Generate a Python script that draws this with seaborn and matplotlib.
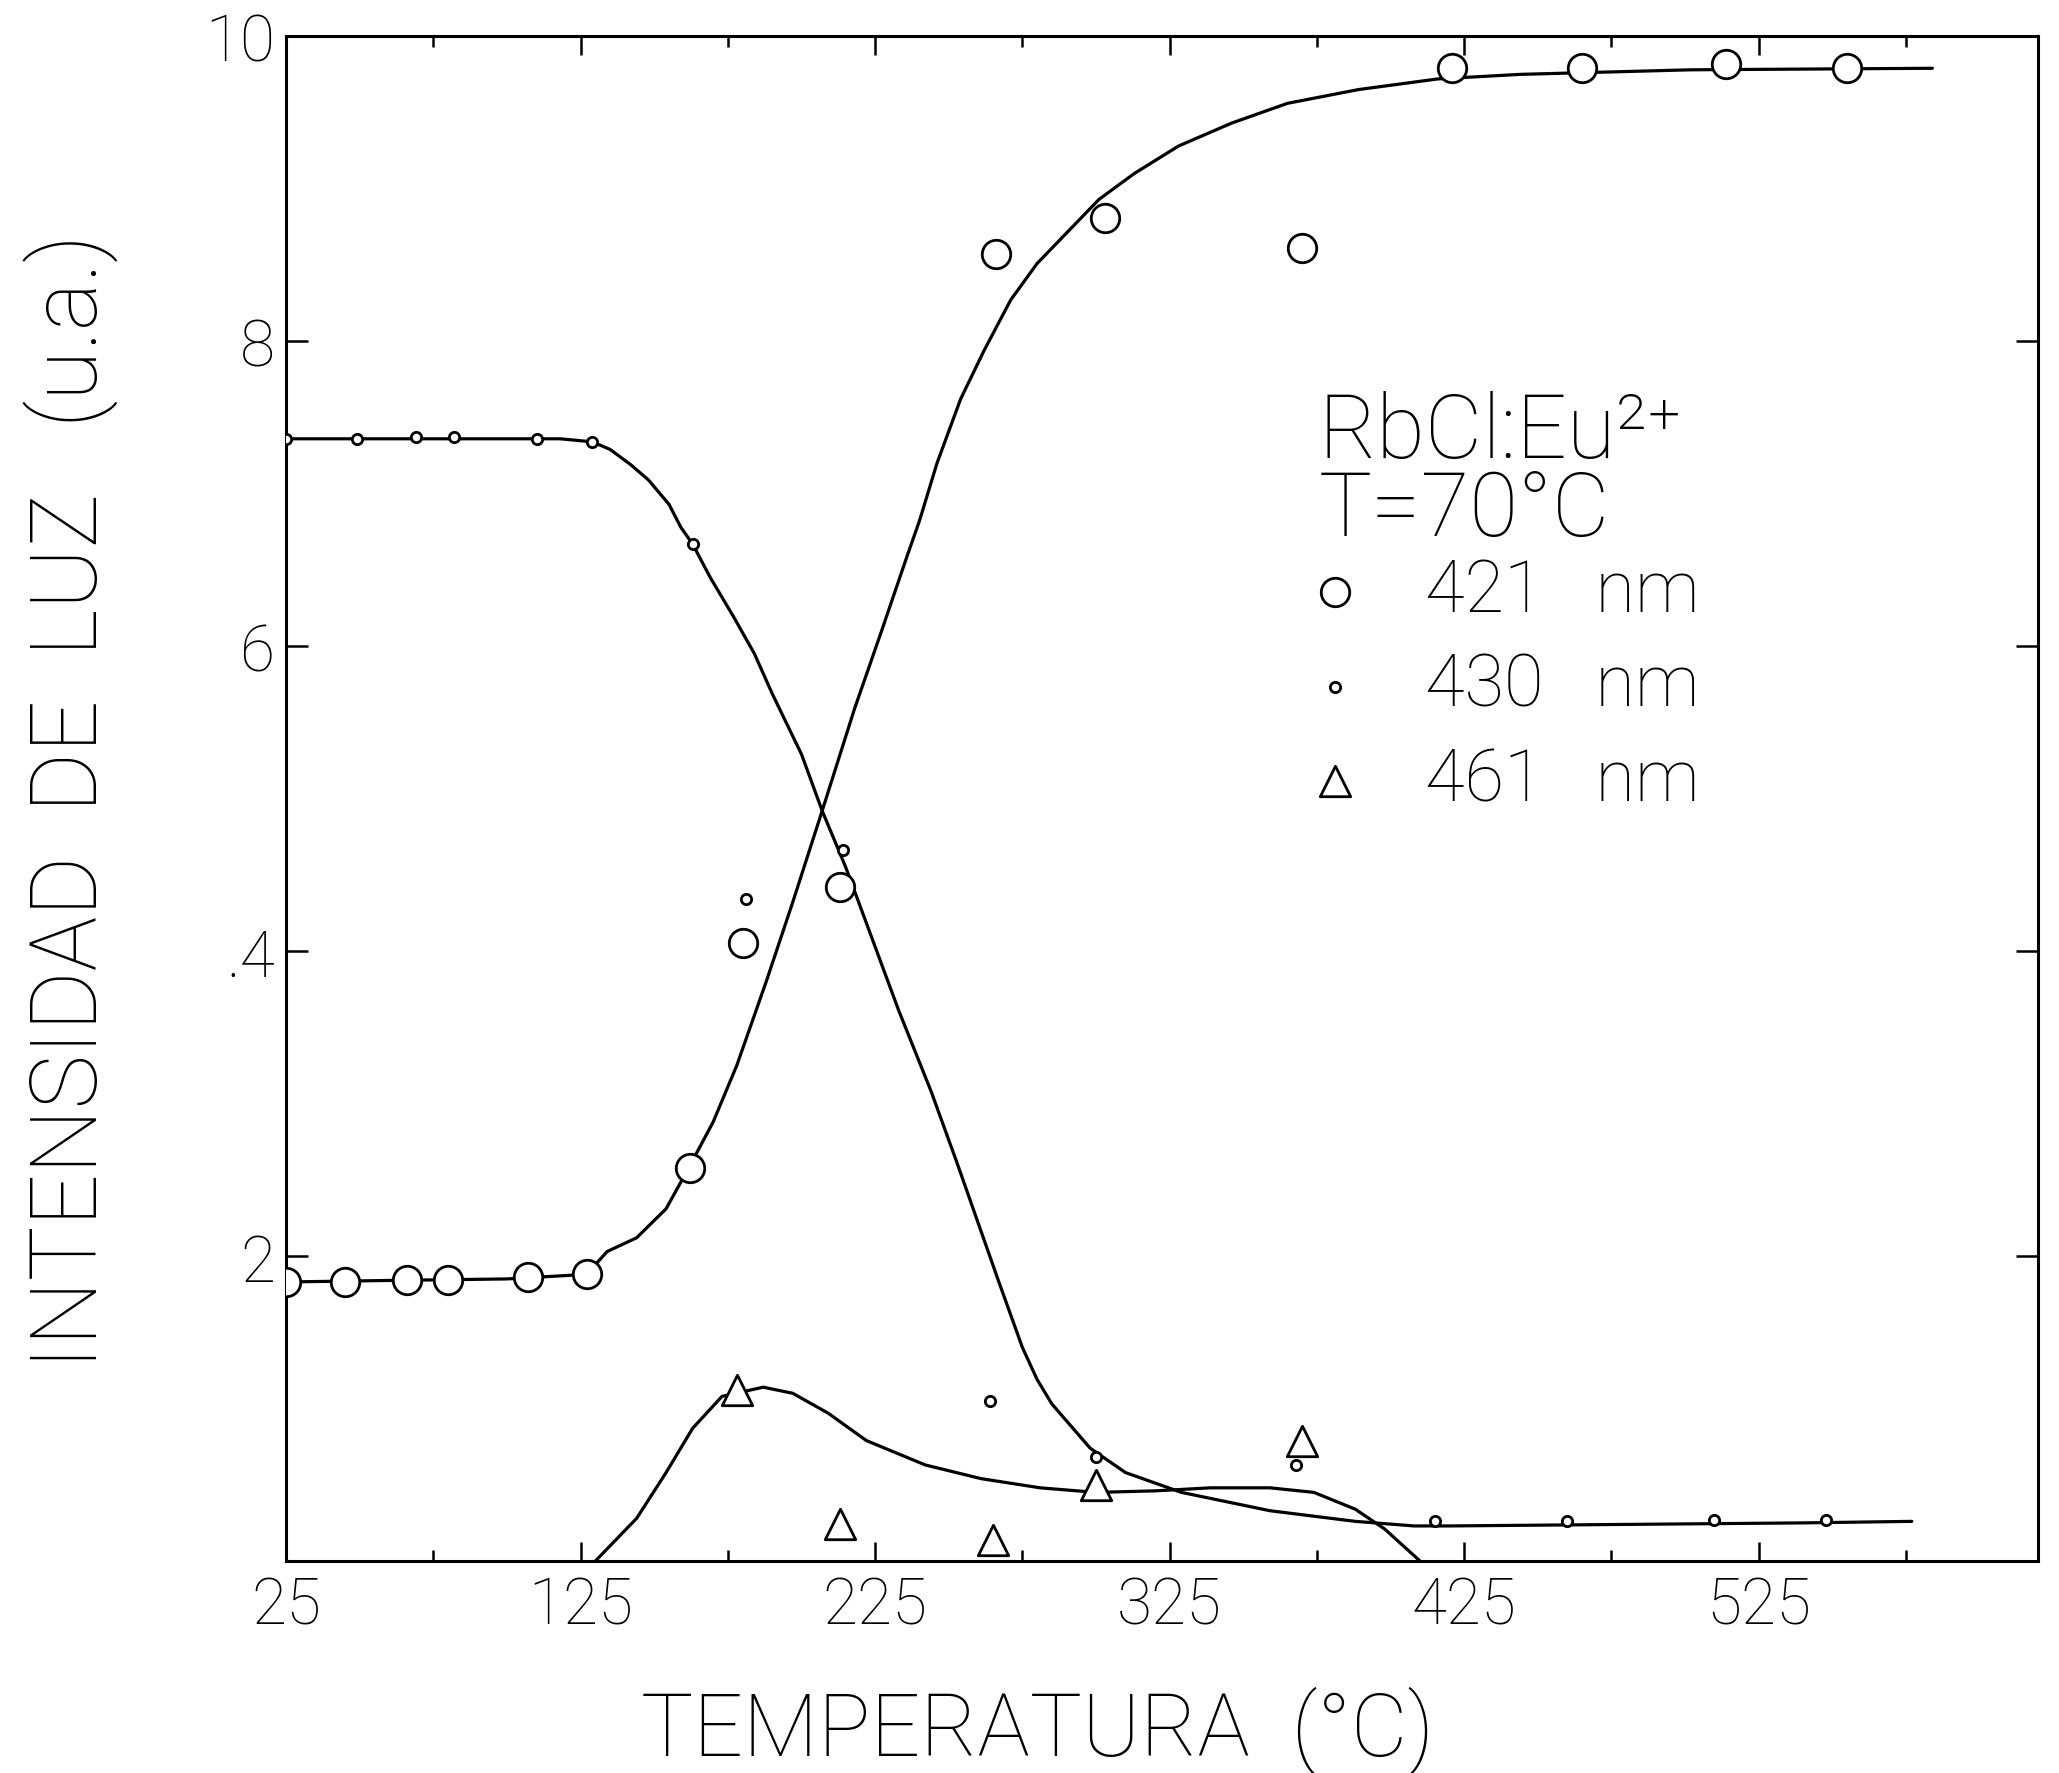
"""Intensidad de luz vs temperatura para RbCl:Eu2+ (T=70 C)."""

import matplotlib

matplotlib.use("Agg")
import matplotlib.pyplot as plt
import pandas as pd
import seaborn as sns

# puntos medidos, 421 nm (circulos grandes)
temp_421 = [25, 45, 66, 80, 107, 127, 162, 180, 213, 266, 303, 370, 421, 465, 514, 555]
int_421 = [1.83, 1.83, 1.84, 1.84, 1.86, 1.88, 2.58, 4.05, 4.42, 8.57, 8.81, 8.61, 9.79, 9.79, 9.82, 9.79]

# puntos medidos, 430 nm (puntos pequenos)
temp_430 = [25, 49, 69, 82, 110, 129, 163, 181, 214, 264, 300, 368, 415, 460, 510, 548]
int_430 = [7.36, 7.36, 7.37, 7.37, 7.36, 7.34, 6.67, 4.34, 4.66, 1.05, 0.68, 0.63, 0.26, 0.26, 0.27, 0.27]

# puntos medidos, 461 nm (triangulos)
temp_461 = [178, 213, 265, 300, 370]
int_461 = [1.12, 0.24, 0.14, 0.50, 0.79]

# curvas trazadas a mano
curve_421_t = [25, 60, 100, 127, 134, 144, 154, 162, 170, 178, 188, 197, 207, 218, 227,
               236, 240, 246, 254, 262, 271, 280, 291, 301, 313, 328, 346, 365, 389, 416,
               444, 502, 584]
curve_421_i = [1.83, 1.84, 1.85, 1.88, 2.03, 2.12, 2.31, 2.59, 2.88, 3.25, 3.80, 4.32, 4.92, 5.59, 6.09,
               6.60, 6.82, 7.20, 7.62, 7.94, 8.27, 8.51, 8.73, 8.93, 9.10, 9.28, 9.43, 9.56, 9.65, 9.72,
               9.75, 9.78, 9.79]

curve_430_t = [25, 60, 100, 118, 129, 135, 142, 148, 155, 159, 163, 169, 177, 184, 190,
               200, 207, 215, 224, 233, 244, 253, 259, 267, 275, 280, 285, 298, 310, 329,
               359, 388, 408, 420, 480, 540, 577]
curve_430_i = [7.36, 7.36, 7.36, 7.36, 7.34, 7.29, 7.19, 7.09, 6.93, 6.78, 6.67, 6.45, 6.19, 5.95, 5.69,
               5.29, 4.92, 4.55, 4.08, 3.61, 3.08, 2.60, 2.27, 1.83, 1.40, 1.19, 1.03, 0.74, 0.58, 0.45,
               0.33, 0.26, 0.23, 0.23, 0.24, 0.25, 0.26]

curve_461_t = [130, 144, 154, 163, 173, 187, 197, 209, 222, 242, 261, 281, 300, 320, 339,
               359, 374, 388, 398, 410]
curve_461_i = [0.0, 0.28, 0.58, 0.87, 1.08, 1.14, 1.10, 0.97, 0.79, 0.63, 0.54, 0.48, 0.45, 0.46, 0.48,
               0.48, 0.45, 0.34, 0.21, 0.0]

x_major = [25, 125, 225, 325, 425, 525]
x_minor = [75, 175, 275, 375, 475, 575]
y_ticks = [2, 4, 6, 8, 10]
y_labels = ["2", ".4", "6", "8", "10"]  # tal como en el original

FONT = ["Roboto", "DejaVu Sans"]


def setup_style():
    sns.set_theme(style="ticks")
    plt.rcParams["font.family"] = FONT
    plt.rcParams["font.weight"] = "light"
    plt.rcParams["axes.labelweight"] = "light"
    plt.rcParams["axes.linewidth"] = 2.2
    plt.rcParams["axes.edgecolor"] = "black"
    plt.rcParams["axes.labelcolor"] = "black"
    plt.rcParams["text.color"] = "black"
    plt.rcParams["xtick.color"] = "black"
    plt.rcParams["ytick.color"] = "black"


setup_style()

fig = plt.figure(figsize=(20.59, 17.74), dpi=100)
ax = fig.add_axes([0.139, 0.1195, 0.851, 0.8595])

curves = [
    (curve_421_t, curve_421_i),
    (curve_430_t, curve_430_i),
    (curve_461_t, curve_461_i),
]
for ct, ci in curves:
    df = pd.DataFrame({"t": ct, "i": ci})
    sns.lineplot(data=df, x="t", y="i", color="black", linewidth=2.3, ax=ax, zorder=2)

pts_421 = pd.DataFrame({"t": temp_421, "i": int_421})
pts_430 = pd.DataFrame({"t": temp_430, "i": int_430})
pts_461 = pd.DataFrame({"t": temp_461, "i": int_461})

sns.scatterplot(data=pts_421, x="t", y="i", marker="o", s=420, facecolor="white",
                edgecolor="black", linewidth=2.0, ax=ax, zorder=3, label="421   nm")
sns.scatterplot(data=pts_430, x="t", y="i", marker="o", s=55, facecolor="white",
                edgecolor="black", linewidth=2.0, ax=ax, zorder=3, label="430   nm")
sns.scatterplot(data=pts_461, x="t", y="i", marker="^", s=480, facecolor="white",
                edgecolor="black", linewidth=2.0, ax=ax, zorder=3, label="461   nm")

ax.set_xlim(25, 620)
ax.set_ylim(0, 10)

ax.set_xticks(x_major)
ax.set_xticks(x_minor, minor=True)
ax.set_xticklabels([str(v) for v in x_major])
ax.set_yticks(y_ticks)
ax.set_yticklabels(y_labels)

ax.tick_params(axis="x", which="major", direction="in", length=14, width=1.8,
               top=True, bottom=True, labelsize=46, pad=10)
ax.tick_params(axis="x", which="minor", direction="in", length=8, width=1.8,
               top=True, bottom=True)
ax.tick_params(axis="y", which="major", direction="in", length=16, width=1.8,
               left=True, right=True, labelsize=46, pad=8)

ax.set_xlabel("TEMPERATURA  (°C)", fontsize=63)
ax.set_ylabel("INTENSIDAD  DE  LUZ   (u.a.)", fontsize=66)
ax.xaxis.set_label_coords(0.429, -0.082)
ax.yaxis.set_label_coords(-0.096, 0.499)

# leyenda
ax.text(0.589, 0.740, "RbCl:Eu²⁺", transform=ax.transAxes, fontsize=64,
        ha="left", va="center")
ax.text(0.589, 0.689, "T=70°C", transform=ax.transAxes, fontsize=64,
        ha="left", va="center")
ax.legend(loc="upper left", bbox_to_anchor=(0.578, 0.659), frameon=False,
          fontsize=52, handlelength=1.0, handletextpad=0.75, labelspacing=0.35,
          borderpad=0, borderaxespad=0)

ax.grid(False)
fig.savefig("out.png", dpi=100, facecolor="white")
plt.close(fig)
